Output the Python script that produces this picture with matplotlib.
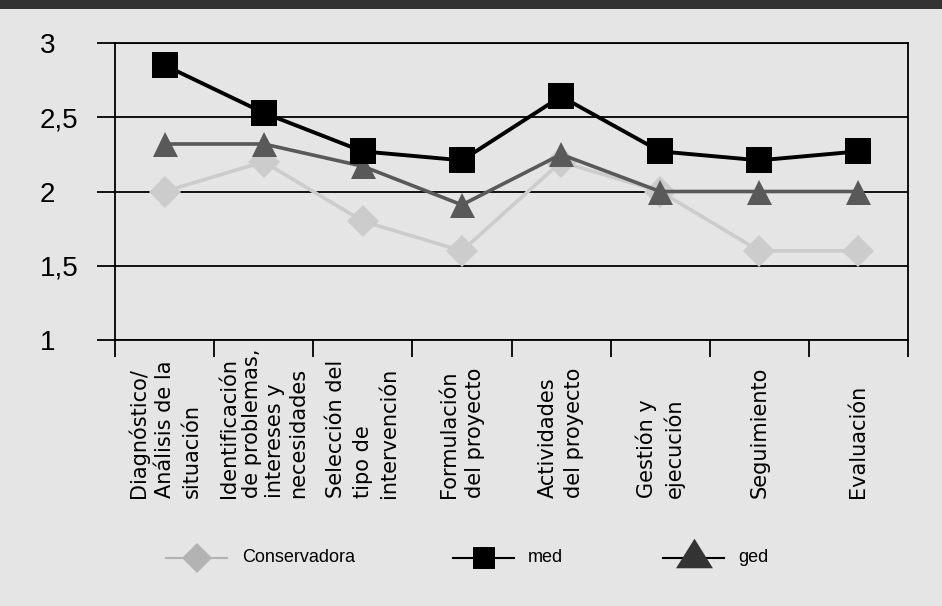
import matplotlib
matplotlib.use("Agg")
import matplotlib.pyplot as plt
from matplotlib.lines import Line2D
from matplotlib.patches import Rectangle
import matplotlib.transforms as mtransforms

# datos
categorias = ["Diagnóstico/\nAnálisis de la\nsituación",
              "Identificación\nde problemas,\nintereses y\nnecesidades",
              "Selección del\ntipo de\nintervención",
              "Formulación\ndel proyecto",
              "Actividades\ndel proyecto",
              "Gestión y\nejecución",
              "Seguimiento",
              "Evaluación"]
conservadora = [2.0, 2.2, 1.8, 1.6, 2.2, 2.0, 1.6, 1.6]
med = [2.85, 2.53, 2.27, 2.21, 2.64, 2.27, 2.21, 2.27]
ged = [2.32, 2.32, 2.17, 1.91, 2.25, 2.0, 2.0, 2.0]
yticks = [1, 1.5, 2, 2.5, 3]
ytick_labels = ["1", "1,5", "2", "2,5", "3"]
series_names = ["Conservadora", "med", "ged"]

bg = "#e5e5e5"
W, H = 942, 606

fig = plt.figure(figsize=(W / 100, H / 100), dpi=100, facecolor=bg)
ax = fig.add_axes([115 / W, 1 - 340 / H, (908 - 115) / W, (340 - 43) / H])
ax.set_facecolor(bg)

# banda oscura superior
fig.add_artist(Rectangle((0, 1 - 9 / H), 1, 9 / H, transform=fig.transFigure,
                         facecolor="#333333", edgecolor="none"))

x = list(range(len(categorias)))
ax.plot(x, conservadora, color="#cccccc", lw=2.6, marker="D", ms=16.5, mew=0, zorder=3)
ax.plot(x, ged, color="#595959", lw=2.6, marker="^", ms=18, mew=0, zorder=4)
ax.plot(x, med, color="black", lw=2.8, marker="s", ms=18.5, mew=0, zorder=5)

ax.set_xlim(-0.5, len(categorias) - 0.5)
ax.set_ylim(1, 3)
ax.set_yticks(yticks)
ax.set_yticklabels(ytick_labels, family="Liberation Sans", fontsize=20, ha="left")
ax.tick_params(axis="y", length=13, width=1.3, direction="out", pad=41, colors="black")
ax.grid(axis="y", color="black", lw=1.3)
ax.set_axisbelow(True)

ax.set_xticks([])
ax.set_xticks([i - 0.5 for i in range(len(categorias) + 1)], minor=True)
ax.tick_params(axis="x", which="minor", length=12, width=1.3, direction="out")
for s in ax.spines.values():
    s.set_linewidth(1.3)

trans = mtransforms.blended_transform_factory(ax.transData, ax.transAxes)
for i, lab in enumerate(categorias):
    nl = lab.count("\n") + 1
    ax.text(i, -(498 - 340) / 297, lab, transform=trans, rotation=90,
            ha="center", va="bottom", multialignment="left",
            family="DejaVu Sans", fontsize=15,
            linespacing=1.2 if nl > 3 else 1.4)

# leyenda dibujada a mano
ly = 1 - 558 / H
items = [(166, 227, 242, "D", "#b3b3b3", "#b3b3b3", 15.3),
         (453, 514, 528, "s", "black", "black", 16.5),
         (663, 724, 738, [(-1, -0.8), (1, -0.8), (0, 0.8)], "black", "#333333", 26.6)]
for (x0, x1, xt, mk, lc, mc, ms), name in zip(items, series_names):
    fig.add_artist(Line2D([x0 / W, x1 / W], [ly, ly], transform=fig.transFigure,
                          color=lc, lw=1.5))
    my = ly + (5 / H if name == "ged" else 0)
    fig.add_artist(Line2D([(x0 + x1) / 2 / W], [my], transform=fig.transFigure,
                          marker=mk, ms=ms, mew=0, color=mc, linestyle="none"))
    fig.text(xt / W, ly, name, family="Liberation Sans", fontsize=13,
             ha="left", va="center")

fig.savefig("out.png", dpi=100, facecolor=bg)
